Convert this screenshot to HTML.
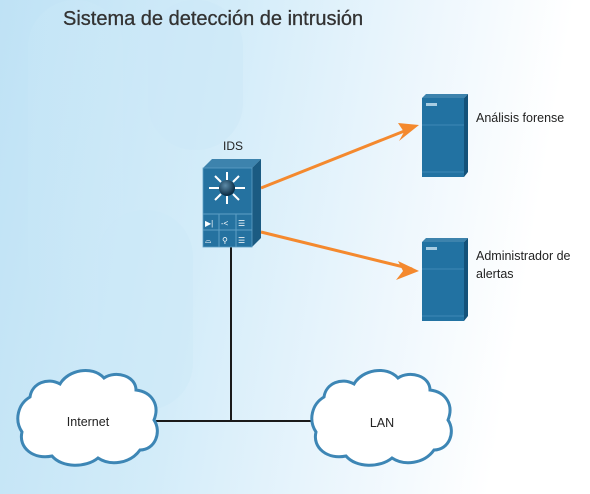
<!DOCTYPE html>
<html><head><meta charset="utf-8"><style>
body{margin:0;width:590px;height:494px;overflow:hidden;font-family:"Liberation Sans",sans-serif;}
.bg{position:absolute;left:0;top:0;width:590px;height:494px;background:linear-gradient(100deg,#bfe2f5 0%,#d3ecf9 35%,#eef7fd 65%,#ffffff 85%);}
</style></head><body>
<div class="bg"></div>
<svg width="590" height="494" style="position:absolute;left:0;top:0" font-family="Liberation Sans, sans-serif">
<defs>
<linearGradient id="pill" x1="0" x2="1"><stop offset="0" stop-color="#c6e6f7" stop-opacity=".6"/><stop offset="1" stop-color="#cfeaf8" stop-opacity=".2"/></linearGradient>
<radialGradient id="ball" cx=".4" cy=".35" r=".6"><stop offset="0" stop-color="#5d8ba8"/><stop offset="1" stop-color="#0d2f48"/></radialGradient>
</defs>
<rect x="28" y="0" width="95" height="310" rx="47" fill="url(#pill)"/>
<rect x="148" y="0" width="95" height="150" rx="47" fill="#cbe8f8" opacity=".5"/>
<rect x="98" y="210" width="95" height="200" rx="47" fill="#cbe8f8" opacity=".4"/>
<text x="63" y="25" font-size="20" fill="#333" stroke="#333" stroke-width=".3">Sistema de detección de intrusión</text>
<line x1="231" y1="247" x2="231" y2="422" stroke="#1a1a1a" stroke-width="2"/>
<line x1="156" y1="421" x2="316" y2="421" stroke="#1a1a1a" stroke-width="2"/>
<g stroke="#f4892e" stroke-width="3" fill="none">
<line x1="261" y1="188" x2="412" y2="128"/>
<line x1="261" y1="232" x2="412" y2="269"/>
</g>
<polygon points="419,125 398,123 404,132 399,141" fill="#f4892e"/>
<polygon points="419,271 398,261 403,271 396,280" fill="#f4892e"/>
<!-- IDS device -->
<text x="233" y="150" font-size="12" text-anchor="middle" fill="#222">IDS</text>
<polygon points="203,168 212,159 261,159 252,168" fill="#3d83ad"/>
<polygon points="252,168 261,159 261,238 252,247" fill="#1b5b82"/>
<rect x="203" y="168" width="49" height="79" fill="#2572a0"/>
<rect x="203" y="168" width="49" height="79" fill="none" stroke="#5fa0c6" stroke-width=".8"/>
<line x1="203" y1="214" x2="252" y2="214" stroke="#5fa0c6"/>
<line x1="203" y1="230" x2="252" y2="230" stroke="#5fa0c6"/>
<line x1="219" y1="214" x2="219" y2="247" stroke="#5fa0c6"/>
<line x1="236" y1="214" x2="236" y2="247" stroke="#5fa0c6"/>
<g stroke="#fff" stroke-width="2">
<line x1="227" y1="180" x2="227" y2="172"/><line x1="227" y1="196" x2="227" y2="204"/>
<line x1="219" y1="188" x2="209" y2="188"/><line x1="235" y1="188" x2="245" y2="188"/>
<line x1="221" y1="182" x2="215" y2="176"/><line x1="233" y1="182" x2="239" y2="176"/>
<line x1="221" y1="194" x2="215" y2="200"/><line x1="233" y1="194" x2="239" y2="200"/>
</g>
<circle cx="227" cy="188" r="8" fill="url(#ball)"/>
<g fill="#fff" font-size="8"><text x="205" y="226">▶|</text><text x="221" y="226">-&lt;</text><text x="238" y="226">☰</text><text x="205" y="243">⌓</text><text x="222" y="243">⚲</text><text x="238" y="243">☰</text></g>
<g id="srv">
<polygon points="422,98 426,94 468,94 464,98" fill="#3d83ad"/>
<polygon points="464,98 468,94 468,172 464,177" fill="#14527a"/>
<rect x="422" y="98" width="42" height="79" fill="#2272a2"/>
<line x1="422" y1="125" x2="464" y2="125" stroke="#3d88b5"/>
<line x1="422" y1="172" x2="464" y2="172" stroke="#3d88b5"/>
<rect x="426" y="103" width="11" height="3" fill="#a9cde2"/>
</g>
<use href="#srv" y="144"/>
<text x="476" y="122" font-size="12.5" fill="#222">Análisis forense</text>
<text x="476" y="260" font-size="12.5" fill="#222">Administrador de</text>
<text x="476" y="278" font-size="12.5" fill="#222">alertas</text>
<g id="cloud" fill="#fff" stroke="#3d86b5" stroke-width="3">
<path d="M30,397 C32,383 48,377 60,384 C68,370 92,365 104,378 C116,370 136,376 136,390 C152,392 160,405 154,420 C162,432 155,450 140,450 C130,464 110,466 98,458 C86,468 62,468 52,456 C34,460 18,448 22,432 C14,420 18,404 30,397 Z"/>
</g>
<use href="#cloud" x="294"/>
<text x="88" y="426" font-size="12.5" text-anchor="middle" fill="#222">Internet</text>
<text x="382" y="427" font-size="12.5" text-anchor="middle" fill="#222">LAN</text>
</svg>
</body></html>
